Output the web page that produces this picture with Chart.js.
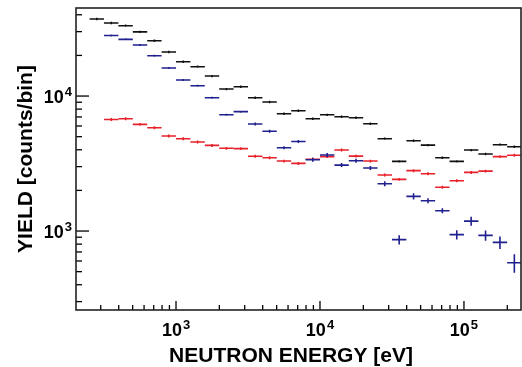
<!DOCTYPE html>
<html><head><meta charset="utf-8">
<script src="https://cdn.jsdelivr.net/npm/chart.js@4.4.1/dist/chart.umd.min.js"></script>
<style>html,body{margin:0;padding:0;background:#fff;}#wrap{width:522px;height:367px;}</style>
</head><body><div id="wrap"><canvas id="c" width="522" height="367"></canvas></div>
<script>
// bin centres (eV) and bin edges (eV)
const energies = [282, 355, 447, 562, 708, 891, 1122, 1413, 1778, 2239, 2818, 3548, 4467, 5623, 7079, 8913, 11220, 14125, 17783, 22387, 28184, 35481, 44668, 56234, 70795, 89125, 112202, 141254, 177828, 223872];
const binEdges = [251, 316, 398, 501, 631, 794, 1000, 1259, 1585, 1995, 2512, 3162, 3981, 5012, 6310, 7943, 10000, 12589, 15849, 19953, 25119, 31623, 39811, 50119, 63096, 79433, 100000, 125893, 158489, 199526, 251189];

const blackYield = [37200, 34800, 33200, 29900, 25700, 21200, 17960, 16500, 14060, 11270, 11730, 9710, 9030, 7390, 7780, 6790, 7260, 7030, 6910, 6230, 4830, 3280, 4660, 4330, 3490, 3280, 3980, 3720, 4360, 4210];
const blackErr   = [740, 700, 660, 600, 510, 420, 360, 330, 280, 225, 235, 195, 180, 150, 155, 135, 145, 140, 140, 125, 95, 65, 95, 85, 70, 65, 80, 75, 85, 85];

const redYield = [null, 6710, 6790, 6170, 5820, 5060, 4830, 4570, 4310, 4100, 4080, 3580, 3490, 3300, 3170, 3400, 3560, 3980, 3590, 3300, 2600, 2415, 2800, 2660, 2110, 2360, 2720, 2780, 3560, 3640];
const redErr   = [null, 170, 170, 155, 145, 125, 120, 115, 110, 100, 100, 90, 85, 80, 80, 85, 90, 100, 90, 80, 65, 60, 70, 65, 55, 60, 70, 70, 90, 90];

const blueYield = [null, 28100, 26300, 23900, 19900, 16120, 13150, 11920, 9710, 7260, 7660, 6210, 5480, 4140, 4610, 3370, 3660, 3080, 3320, 2930, 2240, 863, 1806, 1678, 1414, 940, 1185, 929, 824, 582];
const blueErr   = [null, 480, 450, 410, 340, 280, 225, 205, 170, 125, 130, 160, 140, 105, 120, 115, 125, 105, 115, 100, 95, 68, 95, 72, 60, 75, 90, 82, 88, 92];

const xTickValues = [1000, 10000, 100000];
const xTickLabels = ['10³', '10⁴', '10⁵'];
const yTickValues = [1000, 10000];
const yTickLabels = ['10³', '10⁴'];
const xTitle = 'NEUTRON ENERGY [eV]';
const yTitle = 'YIELD [counts/bin]';

const FONT = '"Liberation Sans", Arial, Helvetica, sans-serif';
const SUP = {'⁰':'0','¹':'1','²':'2','³':'3','⁴':'4','⁵':'5','⁶':'6','⁷':'7','⁸':'8','⁹':'9'};

function toPoints(ys, errs) {
  const pts = [];
  ys.forEach((v, i) => { if (v !== null) pts.push({x: energies[i], y: v, i: i, e: errs[i]}); });
  return pts;
}

const errorBars = {
  id: 'errorBars',
  afterDatasetsDraw(chart) {
    const ctx = chart.ctx, xs = chart.scales.x, ys = chart.scales.y, a = chart.chartArea;
    ctx.save();
    ctx.beginPath(); ctx.rect(a.left, a.top, a.right - a.left, a.bottom - a.top); ctx.clip();
    chart.data.datasets.forEach((ds) => {
      ctx.strokeStyle = ds.borderColor;
      ctx.lineWidth = 1.6;
      ds.data.forEach((p) => {
        const xl = xs.getPixelForValue(binEdges[p.i]);
        const xr = xs.getPixelForValue(binEdges[p.i + 1]);
        const xc = xs.getPixelForValue(p.x);
        const yc = ys.getPixelForValue(p.y);
        const yt = ys.getPixelForValue(p.y + p.e);
        const yb = ys.getPixelForValue(Math.max(p.y - p.e, 1));
        ctx.beginPath();
        ctx.moveTo(xl, yc); ctx.lineTo(xr, yc);
        ctx.moveTo(xc, yt); ctx.lineTo(xc, yb);
        ctx.stroke();
      });
    });
    ctx.restore();
  }
};

function drawPow(ctx, label, x, baseY, align) {
  const base = label.slice(0, -1);
  const sup = SUP[label.slice(-1)] || '';
  ctx.font = 'bold 18px ' + FONT;
  const wb = ctx.measureText(base).width;
  ctx.font = 'bold 13px ' + FONT;
  const ws = ctx.measureText(sup).width;
  const total = wb + 1 + ws;
  const start = align === 'center' ? x - total / 2 : x - total;
  ctx.textAlign = 'left';
  ctx.textBaseline = 'alphabetic';
  ctx.font = 'bold 18px ' + FONT;
  ctx.fillText(base, start, baseY);
  ctx.font = 'bold 13px ' + FONT;
  ctx.fillText(sup, start + wb + 1, baseY - 7);
}

const axesDecor = {
  id: 'axesDecor',
  afterDraw(chart) {
    const ctx = chart.ctx, xs = chart.scales.x, ys = chart.scales.y, a = chart.chartArea;
    ctx.save();
    ctx.fillStyle = '#000';
    ctx.strokeStyle = '#000';
    // ticks (inward)
    ctx.lineWidth = 1.3;
    for (let e = 2; e <= 5; e++) {
      for (let m = 1; m <= 9; m++) {
        const v = m * Math.pow(10, e);
        if (v > xs.min && v < xs.max) {
          const px = xs.getPixelForValue(v);
          const len = m === 1 ? 9 : 5;
          ctx.beginPath(); ctx.moveTo(px, a.bottom); ctx.lineTo(px, a.bottom - len); ctx.stroke();
        }
        if (v > ys.min && v < ys.max) {
          const py = ys.getPixelForValue(v);
          const len = m === 1 ? 13 : 6;
          ctx.beginPath(); ctx.moveTo(a.left, py); ctx.lineTo(a.left + len, py); ctx.stroke();
        }
      }
    }
    // frame
    ctx.lineWidth = 1.6;
    ctx.strokeStyle = '#222';
    ctx.strokeRect(a.left, a.top, a.right - a.left, a.bottom - a.top);
    // tick labels
    xTickValues.forEach((v, k) => drawPow(ctx, xTickLabels[k], xs.getPixelForValue(v), 336, 'center'));
    yTickValues.forEach((v, k) => drawPow(ctx, yTickLabels[k], a.left - 4, ys.getPixelForValue(v) + 7, 'right'));
    // axis titles
    ctx.font = 'bold 21px ' + FONT;
    ctx.textAlign = 'center';
    ctx.textBaseline = 'alphabetic';
    ctx.fillText(xTitle, 291, 362);
    ctx.translate(32, (a.top + a.bottom) / 2);
    ctx.rotate(-Math.PI / 2);
    ctx.fillText(yTitle, 0, 0);
    ctx.restore();
  }
};

new Chart(document.getElementById('c'), {
  type: 'scatter',
  data: {
    datasets: [
      {label: 'total', data: toPoints(blackYield, blackErr), borderColor: '#111111', backgroundColor: '#111111', pointRadius: 0, showLine: false},
      {label: 'red', data: toPoints(redYield, redErr), borderColor: '#e8212a', backgroundColor: '#e8212a', pointRadius: 0, showLine: false},
      {label: 'blue', data: toPoints(blueYield, blueErr), borderColor: '#20208f', backgroundColor: '#20208f', pointRadius: 0, showLine: false}
    ]
  },
  options: {
    responsive: false,
    animation: false,
    devicePixelRatio: 1,
    layout: {padding: {top: 8, right: 1, left: 0, bottom: 0}},
    plugins: {legend: {display: false}, tooltip: {enabled: false}},
    scales: {
      x: {type: 'logarithmic', min: 202, max: 249000,
          ticks: {display: false}, grid: {display: false}, border: {display: false},
          afterFit(s) { s.height = 57; }},
      y: {type: 'logarithmic', min: 260, max: 44900,
          ticks: {display: false}, grid: {display: false}, border: {display: false},
          afterFit(s) { s.width = 76; }}
    }
  },
  plugins: [errorBars, axesDecor]
});
</script>
</body></html>
